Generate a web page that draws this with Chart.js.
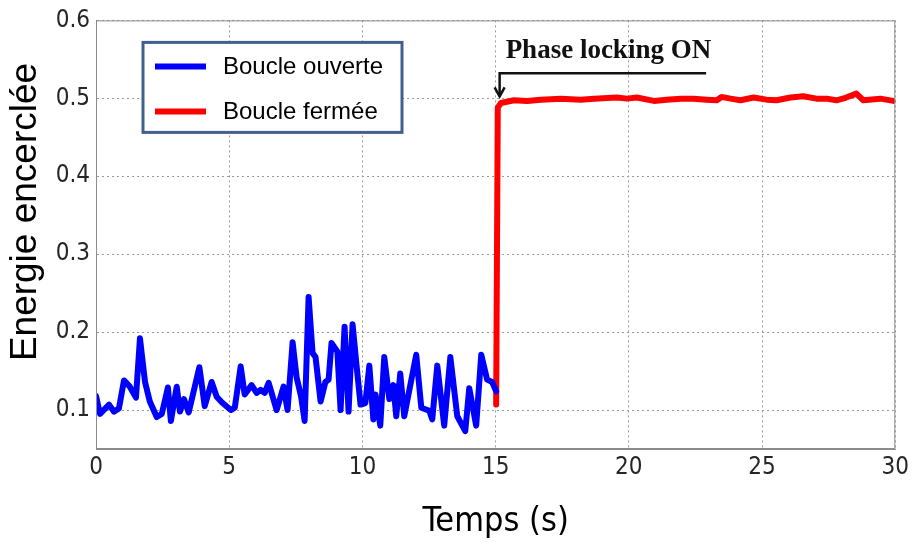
<!DOCTYPE html>
<html>
<head>
<meta charset="utf-8">
<script src="https://cdn.jsdelivr.net/npm/chart.js@4"></script>
<style>
  html, body { margin: 0; padding: 0; background: #fff; }
  canvas { display: block; }
</style>
</head>
<body>
<canvas id="chart" width="913" height="543"></canvas>
<script>
// open loop (blue)
const blueX = [0, 0.15, 0.49, 0.67, 0.86, 1.05, 1.27, 1.5, 1.65, 1.84, 2.02, 2.28, 2.47, 2.7, 2.81, 3.03, 3.15, 3.3, 3.48, 3.88,
  4.08, 4.34, 4.53, 4.72, 5.06, 5.21, 5.43, 5.58, 5.84, 6.03, 6.18, 6.33, 6.48, 6.78, 7.04, 7.19, 7.38, 7.53, 7.7, 7.83,
  7.98, 8.13, 8.24, 8.43, 8.61, 8.73, 8.84, 9.06, 9.18, 9.33, 9.48, 9.63, 9.78, 9.93, 10.11, 10.26, 10.41, 10.49, 10.67, 10.82,
  11.01, 11.16, 11.27, 11.42, 11.57, 12.02, 12.21, 12.51, 12.62, 12.81, 13.07, 13.3, 13.56, 13.86, 14.01, 14.27, 14.46, 14.68, 14.87, 15.02];
const blueY = [0.118, 0.095, 0.107, 0.098, 0.102, 0.138, 0.13, 0.116, 0.192, 0.136, 0.111, 0.091, 0.095, 0.129, 0.086, 0.13, 0.098, 0.114, 0.097, 0.155,
  0.105, 0.136, 0.117, 0.11, 0.1, 0.103, 0.156, 0.12, 0.132, 0.122, 0.126, 0.122, 0.135, 0.1, 0.13, 0.1, 0.187, 0.142, 0.117, 0.086,
  0.245, 0.173, 0.168, 0.111, 0.136, 0.139, 0.186, 0.175, 0.1, 0.207, 0.098, 0.21, 0.157, 0.107, 0.109, 0.157, 0.088, 0.12, 0.08, 0.168,
  0.114, 0.132, 0.092, 0.147, 0.092, 0.171, 0.103, 0.099, 0.088, 0.157, 0.08, 0.168, 0.092, 0.073, 0.128, 0.08, 0.171, 0.139, 0.136, 0.124];

// closed loop (red)
const redX = [15.02, 15.08, 15.2, 15.69, 16.18, 16.7, 17.45, 18.2, 18.69, 19.55, 19.93, 20.3, 20.94, 21.42, 21.95, 22.43, 22.92,
  23.3, 23.48, 23.82, 24.19, 24.68, 25.17, 25.54, 26.07, 26.55, 27.04, 27.42, 27.79, 28.16, 28.54, 28.8, 29.44, 29.93];
const redY = [0.107, 0.488, 0.494, 0.4975, 0.4967, 0.4983, 0.4996, 0.4983, 0.4996, 0.501, 0.4996, 0.501, 0.4967, 0.4983, 0.4996, 0.4996, 0.4983,
  0.4975, 0.5018, 0.4996, 0.4975, 0.501, 0.4983, 0.4975, 0.501, 0.5026, 0.4996, 0.4996, 0.4975, 0.501, 0.506, 0.4975, 0.4996, 0.4967];

const xTicks = [0, 5, 10, 15, 20, 25, 30];
const yTicks = [0.1, 0.2, 0.3, 0.4, 0.5, 0.6];

const seriesNames = ['Boucle ouverte', 'Boucle fermée'];
const seriesColors = ['#0000ff', '#ff0000'];
const yTitle = 'Energie encerclée';
const xTitle = 'Temps (s)';
const noteText = 'Phase locking ON';

const tickFont = { family: "'Liberation Sans Narrow', 'DejaVu Sans Condensed', sans-serif", size: 24 };

// box, legend, annotation and y title drawn on top
const extras = {
  id: 'extras',
  afterDraw(chart) {
    const ctx = chart.ctx;
    const a = chart.chartArea;
    const xs = chart.scales.x, ys = chart.scales.y;
    ctx.save();

    // frame
    ctx.strokeStyle = '#8c8c8c';
    ctx.lineWidth = 1;
    ctx.strokeRect(a.left + 0.5, a.top + 0.5, a.right - a.left - 1, a.bottom - a.top - 1);

    // legend
    const lx = a.left + 47, ly = a.top + 22, lw = 259, lh = 90;
    ctx.fillStyle = '#fff';
    ctx.fillRect(lx, ly, lw, lh);
    ctx.strokeStyle = '#41618c';
    ctx.lineWidth = 3;
    ctx.strokeRect(lx, ly, lw, lh);
    ctx.font = "24px 'Liberation Sans', Arial, sans-serif";
    ctx.textBaseline = 'middle';
    chart.data.datasets.forEach((ds, i) => {
      const y = ly + 24 + i * 45;
      ctx.strokeStyle = ds.borderColor;
      ctx.lineWidth = 6;
      ctx.beginPath();
      ctx.moveTo(lx + 12, y);
      ctx.lineTo(lx + 63, y);
      ctx.stroke();
      ctx.fillStyle = '#000';
      ctx.fillText(ds.label, lx + 80, y + 1);
    });

    // annotation arrow
    const ax = xs.getPixelForValue(15.15);
    const tipY = ys.getPixelForValue(0.5) - 2;
    const lineY = tipY - 23;
    const endX = xs.getPixelForValue(22.9);
    ctx.strokeStyle = '#111';
    ctx.lineWidth = 2.5;
    ctx.beginPath();
    ctx.moveTo(endX, lineY);
    ctx.lineTo(ax, lineY);
    ctx.lineTo(ax, tipY);
    ctx.stroke();
    ctx.beginPath();
    ctx.moveTo(ax - 5, tipY - 9);
    ctx.lineTo(ax, tipY);
    ctx.lineTo(ax + 5, tipY - 9);
    ctx.stroke();
    ctx.fillStyle = '#111';
    ctx.font = "bold 27px 'Liberation Serif', serif";
    ctx.textBaseline = 'middle';
    ctx.fillText(noteText, ax + 6, lineY - 22);

    // y title
    ctx.translate(26, 212);
    ctx.rotate(-Math.PI / 2);
    ctx.font = "37px 'Liberation Sans', Arial, sans-serif";
    ctx.textAlign = 'center';
    ctx.textBaseline = 'middle';
    ctx.fillStyle = '#000';
    ctx.fillText(yTitle, 0, 0);
    ctx.restore();
  }
};

new Chart(document.getElementById('chart'), {
  type: 'line',
  data: {
    datasets: [
      {
        label: seriesNames[0],
        data: blueX.map((x, i) => ({ x: x, y: blueY[i] })),
        borderColor: seriesColors[0],
        borderWidth: 6,
        borderJoinStyle: 'round',
        borderCapStyle: 'round',
        pointRadius: 0,
        tension: 0
      },
      {
        label: seriesNames[1],
        data: redX.map((x, i) => ({ x: x, y: redY[i] })),
        borderColor: seriesColors[1],
        borderWidth: 6,
        borderJoinStyle: 'round',
        borderCapStyle: 'round',
        pointRadius: 0,
        tension: 0
      }
    ]
  },
  options: {
    responsive: false,
    animation: false,
    devicePixelRatio: 1,
    layout: { padding: { top: 18, right: 16, left: 0, bottom: 0 } },
    plugins: {
      legend: { display: false },
      tooltip: { enabled: false }
    },
    scales: {
      x: {
        type: 'linear',
        min: 0,
        max: 30,
        afterBuildTicks: s => { s.ticks = xTicks.map(v => ({ value: v })); },
        afterFit: s => { s.height = 94; },
        ticks: { font: tickFont, color: '#262626', padding: 4, maxRotation: 0 },
        grid: { color: '#9a9a9a', lineWidth: 1, drawTicks: false },
        border: { color: '#8c8c8c', dash: [2, 3] },
        title: {
          display: true,
          text: xTitle,
          color: '#000',
          font: { family: "'Liberation Sans Narrow', 'DejaVu Sans Condensed', sans-serif", size: 34 },
          padding: { top: 0, bottom: 0 }
        }
      },
      y: {
        type: 'linear',
        min: 0.05,
        max: 0.6,
        afterBuildTicks: s => { s.ticks = yTicks.map(v => ({ value: v })); },
        afterFit: s => { s.width = 96; },
        ticks: { font: tickFont, color: '#262626', padding: 6, callback: v => v.toFixed(1) },
        grid: { color: '#9a9a9a', lineWidth: 1, drawTicks: false },
        border: { color: '#8c8c8c', dash: [2, 3] }
      }
    }
  },
  plugins: [extras]
});
</script>
</body>
</html>
